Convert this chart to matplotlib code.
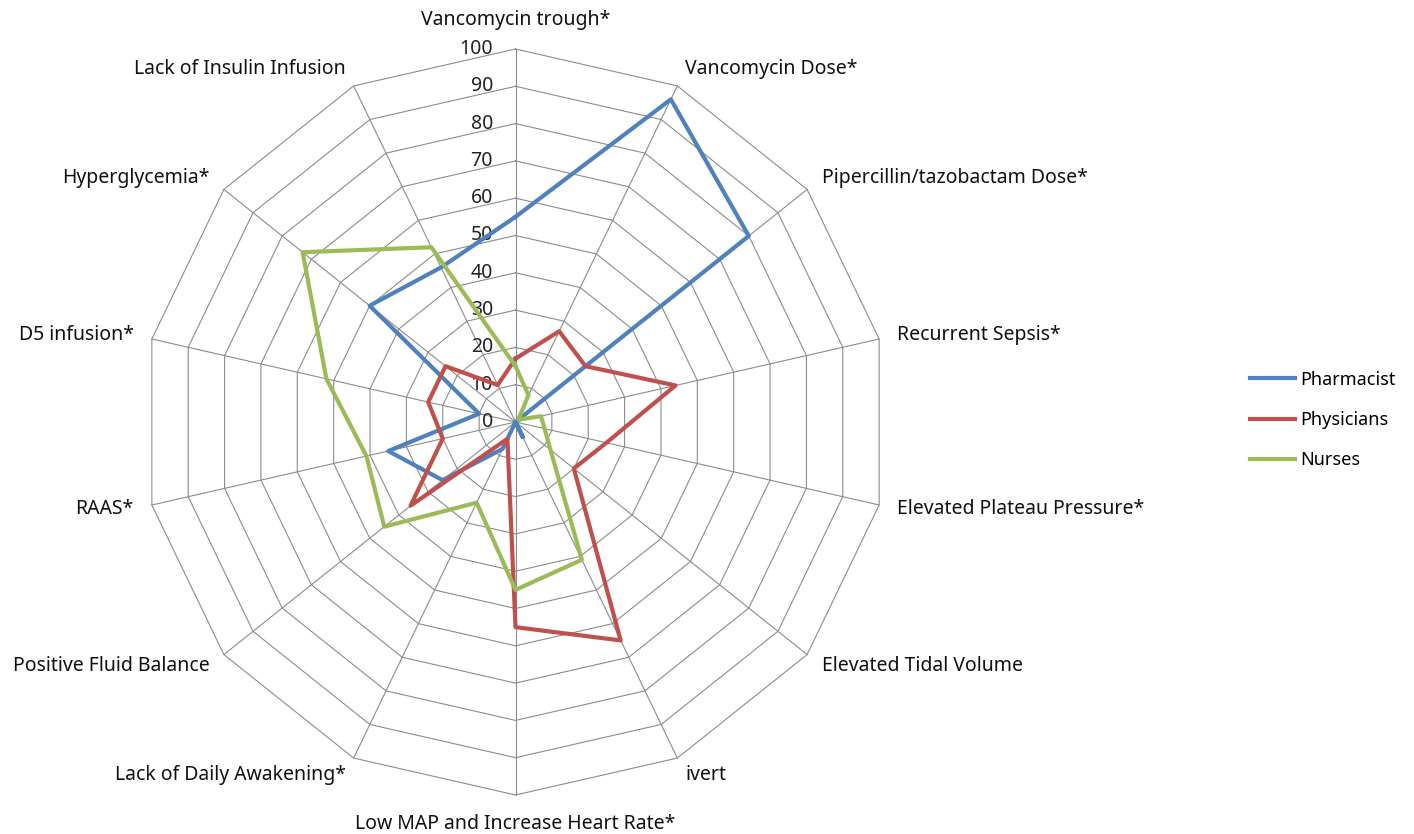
import numpy as np
import matplotlib.pyplot as plt

# spokes, clockwise from the top
categories = ["Vancomycin trough*", "Vancomycin Dose*", "Pipercillin/tazobactam Dose*",
              "Recurrent Sepsis*", "Elevated Plateau Pressure*", "Elevated Tidal Volume",
              "ivert", "Low MAP and Increase Heart Rate*", "Lack of Daily Awakening*",
              "Positive Fluid Balance", "RAAS*", "D5 infusion*", "Hyperglycemia*",
              "Lack of Insulin Infusion"]
pharmacist = [55, 96, 80, 0, 0, 0, 4.5, 0, 8, 25, 35, 10, 50, 46]
physicians = [17, 27, 24, 44, 25, 20, 65, 55, 5, 36, 20, 24, 24, 11]
nurses = [15, 8, 1, 7, 8, 12, 41, 45, 24, 45, 41, 52, 73, 52]
ticks = list(range(0, 101, 10))

series = [("Pharmacist", pharmacist, "#4F81BD"),
          ("Physicians", physicians, "#C0504D"),
          ("Nurses", nurses, "#9BBB59")]

plt.rcParams['font.family'] = ['Noto Sans', 'DejaVu Sans']
fs = 14
grid_col = "#8C8C8C"

n = len(categories)
ang = np.arange(n) * 2 * np.pi / n
sx, sy = np.sin(ang), np.cos(ang)

def to_xy(vals):
    v = np.asarray(vals, dtype=float)
    x = v * sx
    y = v * sy
    return np.append(x, x[0]), np.append(y, y[0])

W, H = 1414, 834
fig = plt.figure(figsize=(W / 100, H / 100), dpi=100)
cx, cy, R = 515.5, 422, 373.0  # pixels for the value 100
lim = 112
half = R * lim / 100
ax = fig.add_axes([(cx - half) / W, (H - cy - half) / H, 2 * half / W, 2 * half / H])
ax.set_xlim(-lim, lim)
ax.set_ylim(-lim, lim)
ax.axis("off")

# polygon rings and spokes
for t in ticks[1:]:
    gx, gy = to_xy([t] * n)
    ax.plot(gx, gy, color=grid_col, lw=0.8, zorder=1)
for i in range(n):
    ax.plot([0, 100 * sx[i]], [0, 100 * sy[i]], color=grid_col, lw=0.8, zorder=1)

for t in ticks:
    ax.text(-6, t, str(t), ha="right", va="center", fontsize=fs, color="#222222")

for i, lab in enumerate(categories):
    r = 105
    x, y = r * sx[i], r * sy[i]
    if sx[i] > 0.1:
        ha = "left"
    elif sx[i] < -0.1:
        ha = "right"
    else:
        ha = "center"
    va = "center"
    if i == 0:
        va = "bottom"
    elif i == n // 2:
        va = "top"
    ax.text(x, y, lab, ha=ha, va=va, fontsize=fs, color="#111111", clip_on=False)

for name, vals, col in series:
    px, py = to_xy(vals)
    ax.plot(px, py, color=col, lw=3, label=name, zorder=3)

fig.legend(loc="center left", bbox_to_anchor=(1250 / W, (H - 420) / H),
           frameon=False, fontsize=13, handlelength=2.5, handletextpad=0.3,
           labelspacing=1.23, borderpad=0, borderaxespad=0)

fig.savefig("out.png", dpi=100)
